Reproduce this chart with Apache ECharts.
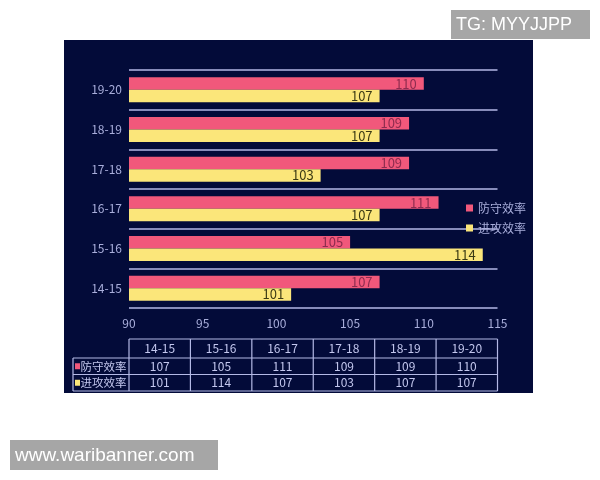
<!DOCTYPE html>
<html><head><meta charset="utf-8">
<script src="https://cdn.jsdelivr.net/npm/echarts@6/dist/echarts.min.js"></script>
<style>html,body{margin:0;padding:0;background:#fff}#c{width:600px;height:480px}</style>
</head><body><div id="c"></div>
<script>
var categories = ['14-15','15-16','16-17','17-18','18-19','19-20'];
var defense = [107,105,111,109,109,110];
var offense = [101,114,107,103,107,107];
var seriesNames = ['防守效率','进攻效率'];
var xTicks = {min:90, max:115, interval:5};

var lav = '#a9aedb';
var lineCol = '#b4b9e6';
var pink = '#f1587b', yellow = '#fbe67a';
var fontFam = '"Noto Sans CJK SC","Noto Sans",sans-serif';

var gridL = 129, gridR = 497.5, gridT = 70, gridB = 308;

// table layout
var tX0 = gridL, tX1 = gridR, colW = (tX1 - tX0) / categories.length;
var lblX = 73;
var rowY = [339, 358, 374.5, 391];
var g = [];
g.push({type:'rect', z:-10, shape:{x:64,y:40,width:469,height:353}, style:{fill:'#030b39'}});
// watermarks
g.push({type:'rect', z:50, shape:{x:451,y:10,width:139,height:29}, style:{fill:'#a6a6a6'}});
g.push({type:'text', z:51, x:456, y:25, style:{text:'TG: MYYJJPP', fill:'#fff', font:'18px "Liberation Sans",Arial,sans-serif', verticalAlign:'middle'}});
g.push({type:'rect', z:50, shape:{x:10,y:440,width:208,height:30}, style:{fill:'#a6a6a6'}});
g.push({type:'text', z:51, x:15, y:455.5, style:{text:'www.waribanner.com', fill:'#fff', font:'19px "Liberation Sans",Arial,sans-serif', verticalAlign:'middle'}});
// table lines
var ls = {stroke:lineCol, lineWidth:1.2};
for (var r = 0; r < rowY.length; r++) {
  var xs = r === 0 ? tX0 : lblX;
  g.push({type:'line', shape:{x1:xs,y1:rowY[r],x2:tX1,y2:rowY[r]}, style:ls});
}
for (var c = 0; c <= categories.length; c++) {
  var x = tX0 + c*colW;
  g.push({type:'line', shape:{x1:x,y1:rowY[0],x2:x,y2:rowY[3]}, style:ls});
}
g.push({type:'line', shape:{x1:lblX,y1:rowY[1],x2:lblX,y2:rowY[3]}, style:ls});
var tfont = '12px ' + fontFam;
for (var c = 0; c < categories.length; c++) {
  var cx = tX0 + (c+0.5)*colW;
  g.push({type:'text', x:cx, y:(rowY[0]+rowY[1])/2, style:{text:categories[c], fill:'#c3c7ee', font:tfont, align:'center', verticalAlign:'middle'}});
  g.push({type:'text', x:cx, y:(rowY[1]+rowY[2])/2, style:{text:String(defense[c]), fill:'#c3c7ee', font:tfont, align:'center', verticalAlign:'middle'}});
  g.push({type:'text', x:cx, y:(rowY[2]+rowY[3])/2, style:{text:String(offense[c]), fill:'#c3c7ee', font:tfont, align:'center', verticalAlign:'middle'}});
}
var rowColors = [pink, yellow];
for (var s = 0; s < 2; s++) {
  var cy = (rowY[s+1]+rowY[s+2])/2;
  g.push({type:'rect', shape:{x:lblX+2,y:cy-3,width:5,height:6}, style:{fill:rowColors[s]}});
  g.push({type:'text', x:lblX+7.5, y:cy, style:{text:seriesNames[s], fill:'#c3c7ee', font:'11.5px ' + fontFam, verticalAlign:'middle'}});
}

var chart = echarts.init(document.getElementById('c'));
chart.setOption({
  backgroundColor:'#ffffff',
  animation:false,
  textStyle:{fontFamily:fontFam},
  graphic:g,
  grid:{left:gridL, right:600-gridR, top:gridT, bottom:480-gridB},
  legend:{
    data:[seriesNames[0], seriesNames[1]],
    orient:'vertical', left:461, top:197, itemWidth:7, itemHeight:7, itemGap:8,
    icon:'rect',
    textStyle:{color:lav, fontSize:12, fontFamily:fontFam}
  },
  xAxis:{
    type:'value', min:xTicks.min, max:xTicks.max, interval:xTicks.interval,
    axisLine:{show:false}, axisTick:{show:false}, splitLine:{show:false},
    axisLabel:{color:lav, fontSize:12, margin:9}
  },
  yAxis:{
    type:'category', data:categories,
    axisLine:{show:false}, axisTick:{show:false},
    splitLine:{show:true, lineStyle:{color:lineCol, width:1.5}},
    axisLabel:{color:lav, fontSize:12, margin:7}
  },
  series:[
    {name:seriesNames[0], type:'bar', data:defense, barWidth:12.5, barGap:'0%',
     itemStyle:{color:pink},
     label:{show:true, position:'insideRight', color:'#8e2c4f', fontSize:13, distance:7}},
    {name:seriesNames[1], type:'bar', data:offense, barWidth:12.5, barGap:'0%',
     itemStyle:{color:yellow},
     label:{show:true, position:'insideRight', color:'#3b3a14', fontSize:13, distance:7}}
  ]
});
</script></body></html>
